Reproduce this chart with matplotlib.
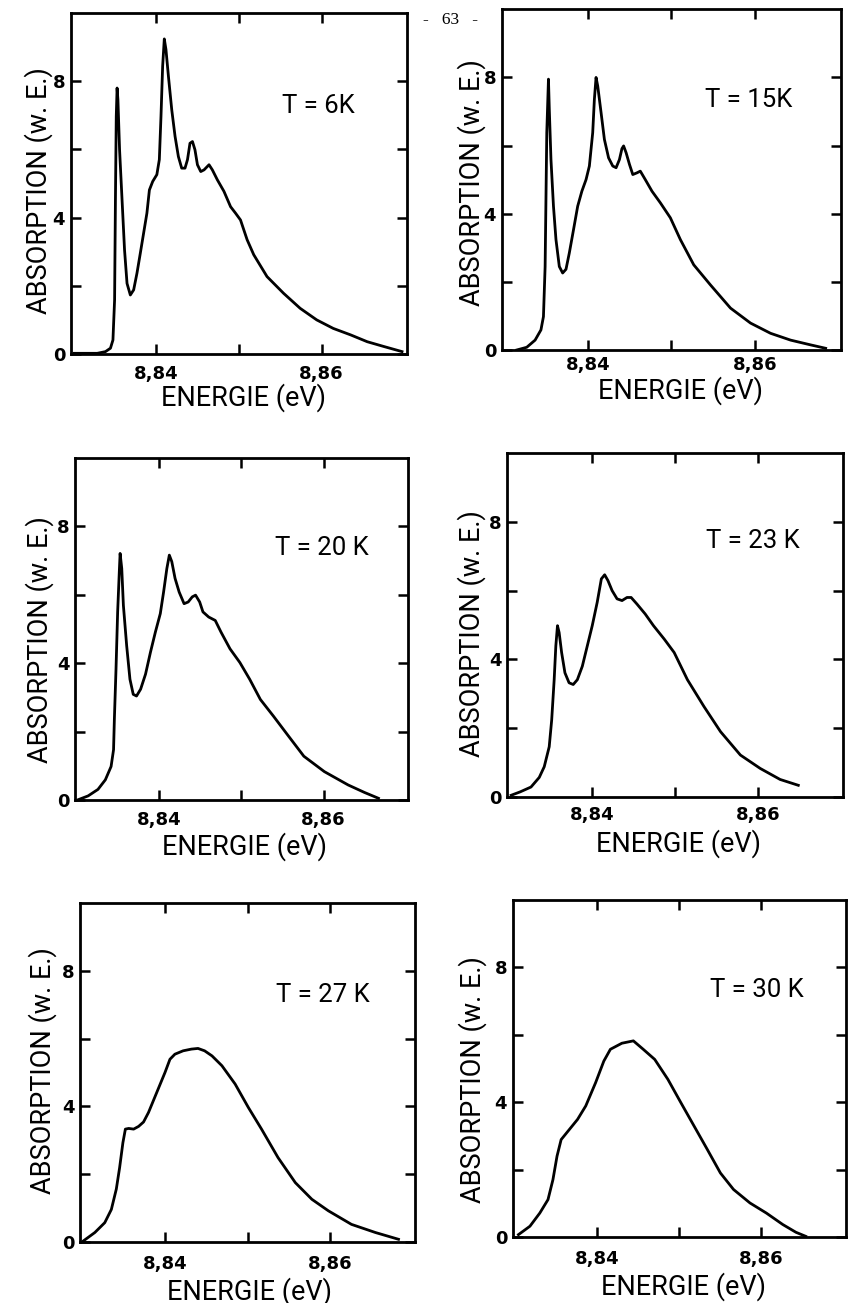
import matplotlib
matplotlib.use("Agg")
import matplotlib.pyplot as plt

# ---------------- data ----------------
energy_6K = [8.8301, 8.8329, 8.8339, 8.8345, 8.8348, 8.8350, 8.8351, 8.8352, 8.8353, 8.8354,
             8.8356, 8.8359, 8.8362, 8.8365, 8.8369, 8.8373, 8.8377, 8.8381, 8.8385, 8.8389,
             8.8392, 8.8396, 8.8401, 8.8404, 8.8406, 8.8408, 8.8410, 8.8412, 8.8415, 8.8419,
             8.8423, 8.8427, 8.8431, 8.8435, 8.8438, 8.8441, 8.8444, 8.8447, 8.8450, 8.8454,
             8.8458, 8.8464, 8.8468, 8.8474, 8.8482, 8.8490, 8.8496, 8.8502, 8.8510, 8.8518,
             8.8534, 8.8554, 8.8574, 8.8594, 8.8614, 8.8635, 8.8655, 8.8675, 8.8697]
absorb_6K = [0.02, 0.02, 0.07, 0.17, 0.41, 1.59, 4.52, 6.97, 7.80, 7.46,
             5.99, 4.52, 3.05, 2.07, 1.73, 1.88, 2.37, 2.95, 3.54, 4.13,
             4.81, 5.06, 5.26, 5.70, 6.97, 8.44, 9.24, 8.93, 8.14, 7.16,
             6.38, 5.79, 5.45, 5.45, 5.70, 6.18, 6.23, 5.99, 5.55, 5.35,
             5.40, 5.55, 5.40, 5.11, 4.77, 4.32, 4.13, 3.93, 3.35, 2.91,
             2.27, 1.78, 1.34, 1.00, 0.75, 0.56, 0.36, 0.22, 0.07]

energy_15K = [8.8315, 8.8327, 8.8337, 8.8344, 8.8347, 8.8349, 8.8350, 8.8351, 8.8353, 8.8354,
              8.8356, 8.8359, 8.8362, 8.8366, 8.8370, 8.8374, 8.8378, 8.8383, 8.8388, 8.8393,
              8.8398, 8.8402, 8.8406, 8.8408, 8.8410, 8.8412, 8.8416, 8.8420, 8.8425, 8.8430,
              8.8434, 8.8438, 8.8441, 8.8443, 8.8446, 8.8450, 8.8454, 8.8459, 8.8463, 8.8469,
              8.8477, 8.8487, 8.8499, 8.8511, 8.8527, 8.8547, 8.8571, 8.8595, 8.8619, 8.8643,
              8.8667, 8.8685]
absorb_15K = [0.00, 0.08, 0.29, 0.59, 0.98, 2.45, 4.42, 6.38, 7.95, 7.07,
              5.59, 4.22, 3.24, 2.45, 2.26, 2.37, 2.85, 3.53, 4.22, 4.66,
              5.00, 5.40, 6.38, 7.36, 8.00, 7.75, 6.97, 6.18, 5.64, 5.40,
              5.35, 5.59, 5.91, 5.99, 5.79, 5.45, 5.15, 5.20, 5.25, 5.00,
              4.66, 4.32, 3.88, 3.24, 2.50, 1.91, 1.23, 0.79, 0.49, 0.29,
              0.15, 0.05]

energy_20K = [8.8300, 8.8313, 8.8325, 8.8334, 8.8341, 8.8344, 8.8345, 8.8347, 8.8349, 8.8351,
              8.8352, 8.8354, 8.8356, 8.8360, 8.8364, 8.8368, 8.8372, 8.8377, 8.8383, 8.8389,
              8.8395, 8.8401, 8.8405, 8.8409, 8.8412, 8.8415, 8.8419, 8.8424, 8.8430, 8.8435,
              8.8440, 8.8444, 8.8449, 8.8453, 8.8460, 8.8468, 8.8475, 8.8486, 8.8498, 8.8510,
              8.8523, 8.8539, 8.8556, 8.8576, 8.8601, 8.8630, 8.8650, 8.8667]
absorb_20K = [0.00, 0.12, 0.31, 0.59, 0.98, 1.47, 2.36, 3.83, 5.50, 6.67,
              7.21, 6.77, 5.69, 4.51, 3.53, 3.09, 3.04, 3.24, 3.68, 4.32,
              4.91, 5.45, 6.08, 6.77, 7.16, 6.97, 6.48, 6.08, 5.74, 5.79,
              5.94, 5.99, 5.79, 5.50, 5.35, 5.25, 4.91, 4.42, 4.02, 3.53,
              2.94, 2.45, 1.91, 1.28, 0.83, 0.44, 0.22, 0.05]

energy_23K = [8.8302, 8.8313, 8.8326, 8.8336, 8.8342, 8.8348, 8.8351, 8.8354, 8.8356, 8.8358,
              8.8360, 8.8363, 8.8367, 8.8372, 8.8377, 8.8382, 8.8388, 8.8394, 8.8400, 8.8406,
              8.8411, 8.8415, 8.8419, 8.8424, 8.8430, 8.8436, 8.8442, 8.8447, 8.8454, 8.8464,
              8.8474, 8.8487, 8.8499, 8.8515, 8.8535, 8.8555, 8.8579, 8.8603, 8.8627, 8.8649]
absorb_23K = [0.05, 0.15, 0.29, 0.57, 0.88, 1.46, 2.24, 3.41, 4.39, 4.98,
              4.78, 4.20, 3.61, 3.32, 3.27, 3.41, 3.80, 4.39, 4.98, 5.66,
              6.34, 6.46, 6.29, 6.00, 5.76, 5.71, 5.80, 5.80, 5.61, 5.32,
              4.98, 4.59, 4.20, 3.41, 2.63, 1.90, 1.22, 0.83, 0.51, 0.34]

energy_27K = [8.8301, 8.8315, 8.8327, 8.8335, 8.8341, 8.8345, 8.8349, 8.8352, 8.8356, 8.8362,
              8.8368, 8.8374, 8.8380, 8.8390, 8.8400, 8.8406, 8.8412, 8.8422, 8.8432, 8.8440,
              8.8448, 8.8457, 8.8469, 8.8485, 8.8501, 8.8517, 8.8537, 8.8558, 8.8578, 8.8598,
              8.8626, 8.8655, 8.8683]
absorb_27K = [0.03, 0.28, 0.57, 0.96, 1.56, 2.19, 2.93, 3.33, 3.35, 3.33,
              3.41, 3.54, 3.82, 4.41, 5.00, 5.39, 5.54, 5.64, 5.69, 5.71,
              5.64, 5.49, 5.20, 4.66, 3.97, 3.33, 2.49, 1.75, 1.26, 0.92,
              0.52, 0.28, 0.08]

energy_30K = [8.8304, 8.8318, 8.8330, 8.8340, 8.8346, 8.8351, 8.8356, 8.8366, 8.8376, 8.8386,
              8.8398, 8.8408, 8.8416, 8.8430, 8.8444, 8.8456, 8.8470, 8.8486, 8.8502, 8.8518,
              8.8534, 8.8550, 8.8566, 8.8586, 8.8606, 8.8626, 8.8642, 8.8654]
absorb_30K = [0.07, 0.32, 0.71, 1.11, 1.70, 2.40, 2.89, 3.19, 3.49, 3.89,
              4.58, 5.22, 5.57, 5.75, 5.82, 5.57, 5.27, 4.68, 3.98, 3.29,
              2.60, 1.90, 1.41, 1.01, 0.71, 0.37, 0.14, 0.02]

temp_labels = ["T = 6K", "T = 15K", "T = 20 K", "T = 23 K", "T = 27 K", "T = 30 K"]
x_ticks = [8.84, 8.85, 8.86]
x_tick_labels = ["8,84", "", "8,86"]
y_ticks = [0, 2, 4, 6, 8]
y_tick_labels = ["0", "", "4", "", "8"]
x_label = "ENERGIE (eV)"
y_label = "ABSORPTION (w. E.)"
page_number = "-   63   -"

series = [(energy_6K, absorb_6K), (energy_15K, absorb_15K), (energy_20K, absorb_20K),
          (energy_23K, absorb_23K), (energy_27K, absorb_27K), (energy_30K, absorb_30K)]

# ---------------- layout (pixel boxes: left, right, top, bottom) ----------------
W, H = 853, 1303
boxes = [(70.7, 407, 13, 354), (501.7, 840.7, 9.3, 350),
         (75, 408, 458, 800), (507, 843, 453, 797),
         (80, 415, 903, 1242), (512.7, 846, 900, 1237)]
t_pos = [(0.736, 0.726), (0.728, 0.734), (0.74, 0.737), (0.732, 0.743), (0.726, 0.73), (0.732, 0.733)]
ylab_pos = [(-0.095, 0.48), (-0.09, 0.49), (-0.106, 0.468), (-0.104, 0.474), (-0.113, 0.507), (-0.12, 0.466)]
xlab_pos = [(0.513, -0.128), (0.526, -0.12), (0.51, -0.135), (0.509, -0.136), (0.507, -0.145), (0.511, -0.148)]
x_pad = [8.0, 4.0, 8.0, 6.5, 9.5, 9.5]

label_font = ["Roboto", "DejaVu Sans"]

fig = plt.figure(figsize=(W / 100, H / 100), dpi=100)
fig.patch.set_facecolor("white")

for i, ((xs, ys), (l, r, t, b)) in enumerate(zip(series, boxes)):
    ax = fig.add_axes([l / W, 1 - b / H, (r - l) / W, (b - t) / H])
    ax.plot(xs, ys, color="black", lw=2.0, solid_joinstyle="round")
    ax.set_xlim(8.8297, 8.8703)
    ax.set_ylim(0, 10)
    ax.set_xticks(x_ticks)
    ax.set_xticklabels(x_tick_labels)
    ax.set_yticks(y_ticks)
    ax.set_yticklabels(y_tick_labels)
    ax.tick_params(direction="in", top=True, right=True, length=7, width=1.8,
                   labelsize=13, color="black")
    ax.tick_params(axis="x", pad=x_pad[i])
    ax.tick_params(axis="y", pad=4)
    for lab in ax.get_xticklabels() + ax.get_yticklabels():
        lab.set_fontweight("bold")
        lab.set_family("DejaVu Sans")
    for sp in ax.spines.values():
        sp.set_linewidth(2.0)
    ax.text(t_pos[i][0], t_pos[i][1], temp_labels[i], transform=ax.transAxes,
            ha="center", va="center", fontsize=18.5, family=label_font)
    ax.text(ylab_pos[i][0], ylab_pos[i][1], y_label, transform=ax.transAxes,
            ha="center", va="center", rotation=90, fontsize=19.5, family=label_font)
    ax.text(xlab_pos[i][0], xlab_pos[i][1], x_label, transform=ax.transAxes,
            ha="center", va="center", fontsize=19.5, family=label_font)

fig.text(451 / W, 1 - 20 / H, page_number, ha="center", va="center", fontsize=12.5,
         family=["Liberation Serif", "DejaVu Serif"])

fig.savefig("out.png", dpi=100, facecolor="white")
